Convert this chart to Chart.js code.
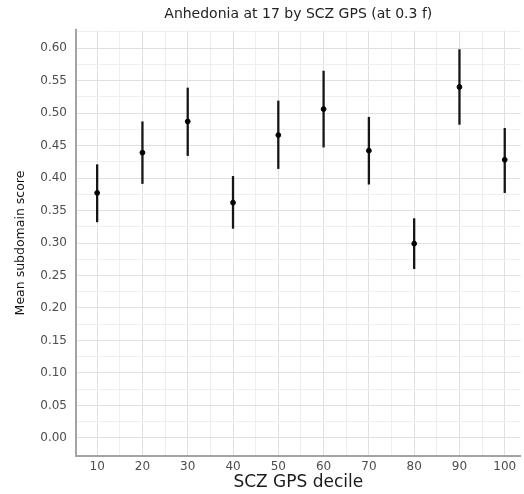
<!DOCTYPE html>
<html lang="en">
<head>
    <meta charset="UTF-8">
    <title>Anhedonia at 17 by SCZ GPS</title>
    <script src="https://cdn.jsdelivr.net/npm/chart.js"></script>
    <style>
        html, body {
            margin: 0;
            padding: 0;
            background: #fff;
        }
        .chart-box {
            width: 524px;
            height: 494px;
        }
    </style>
</head>
<body>
    <div class="chart-box">
        <canvas id="myChart"></canvas>
    </div>

    <script>
        // deciles and the mean score with its interval
        const deciles = [10, 20, 30, 40, 50, 60, 70, 80, 90, 100];
        const means = [0.377, 0.439, 0.487, 0.362, 0.466, 0.506, 0.442, 0.299, 0.540, 0.428];
        const lower = [0.332, 0.391, 0.434, 0.322, 0.414, 0.447, 0.390, 0.260, 0.482, 0.377];
        const upper = [0.421, 0.487, 0.539, 0.403, 0.519, 0.565, 0.494, 0.338, 0.598, 0.477];

        const xMajor = [10, 20, 30, 40, 50, 60, 70, 80, 90, 100];
        const xMinor = [15, 25, 35, 45, 55, 65, 75, 85, 95];
        const yMajor = [0, 0.05, 0.10, 0.15, 0.20, 0.25, 0.30, 0.35, 0.40, 0.45, 0.50, 0.55, 0.60];
        const yMinor = [0.025, 0.075, 0.125, 0.175, 0.225, 0.275, 0.325, 0.375, 0.425, 0.475, 0.525, 0.575, 0.625];

        const FONT = "'DejaVu Sans', sans-serif";

        // vertical error bars, placed with the chart's own scales
        const errorBars = {
            id: 'errorBars',
            beforeDatasetsDraw(chart) {
                const { ctx, scales: { x, y } } = chart;
                ctx.save();
                ctx.strokeStyle = '#161616';
                ctx.lineWidth = 2.3;
                for (let i = 0; i < deciles.length; i++) {
                    const px = x.getPixelForValue(deciles[i]);
                    ctx.beginPath();
                    ctx.moveTo(px, y.getPixelForValue(lower[i]));
                    ctx.lineTo(px, y.getPixelForValue(upper[i]));
                    ctx.stroke();
                }
                ctx.restore();
            }
        };

        function setTicks(list) {
            return axis => {
                axis.ticks = list.map(v => ({ value: v }));
            };
        }

        const ctx = document.getElementById('myChart').getContext('2d');
        const myChart = new Chart(ctx, {
            type: 'scatter',
            data: {
                datasets: [{
                    data: deciles.map((d, i) => ({ x: d, y: means[i] })),
                    backgroundColor: '#000',
                    borderColor: '#000',
                    pointRadius: 2.4,
                    pointHoverRadius: 2.4
                }]
            },
            options: {
                responsive: true,
                maintainAspectRatio: false,
                animation: false,
                layout: { padding: 0 },
                scales: {
                    x: {
                        type: 'linear',
                        min: 5.33,
                        max: 103.5,
                        afterBuildTicks: setTicks(xMajor.concat(xMinor)),
                        afterFit: axis => { axis.height = 38; },
                        grid: {
                            drawTicks: false,
                            color: c => xMajor.includes(c.tick.value) ? '#e0e0e0' : '#efefef',
                            lineWidth: 1
                        },
                        border: { color: '#a3a3a3', width: 2 },
                        ticks: {
                            autoSkip: false,
                            maxRotation: 0,
                            padding: 4,
                            color: '#4d4d4d',
                            font: { family: FONT, size: 12 },
                            callback: v => xMajor.includes(v) ? String(v) : ''
                        },
                        title: {
                            display: true,
                            text: 'SCZ GPS decile',
                            color: '#1a1a1a',
                            font: { family: FONT, size: 17 },
                            padding: { top: 0, bottom: 1.5 }
                        }
                    },
                    y: {
                        min: -0.0277,
                        max: 0.6277,
                        afterBuildTicks: setTicks(yMajor.concat(yMinor)),
                        afterFit: axis => { axis.width = 76; },
                        grid: {
                            drawTicks: false,
                            color: c => yMajor.includes(c.tick.value) ? '#e0e0e0' : '#efefef',
                            lineWidth: 1
                        },
                        border: { color: '#a3a3a3', width: 2 },
                        ticks: {
                            autoSkip: false,
                            padding: 9,
                            color: '#4d4d4d',
                            font: { family: FONT, size: 12 },
                            callback: v => yMajor.includes(v) ? v.toFixed(2) : ''
                        },
                        title: {
                            display: true,
                            text: 'Mean subdomain score',
                            color: '#111',
                            font: { family: FONT, size: 12.5 },
                            padding: { top: 13, bottom: 0 }
                        }
                    }
                },
                plugins: {
                    legend: { display: false },
                    tooltip: { enabled: false },
                    title: {
                        display: true,
                        fullSize: false,
                        text: 'Anhedonia at 17 by SCZ GPS (at 0.3 f)',
                        color: '#222',
                        font: { family: FONT, size: 14, weight: 'normal' },
                        padding: { top: 6, bottom: 7.2 }
                    }
                }
            },
            plugins: [errorBars]
        });
    </script>
</body>
</html>
